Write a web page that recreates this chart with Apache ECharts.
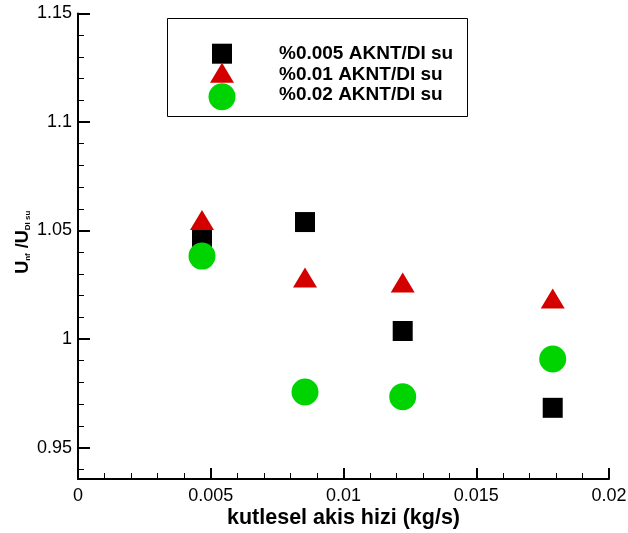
<!DOCTYPE html>
<html>
<head>
<meta charset="utf-8">
<script src="https://cdn.jsdelivr.net/npm/echarts@6/dist/echarts.min.js"></script>
<style>
  html, body { margin: 0; padding: 0; background: #fff; }
  #chart { width: 628px; height: 533px; }
</style>
</head>
<body>
<div id="chart"></div>
<script>
// Mass flow rate (kg/s) at the four measurement points
const massFlow = [0.00467, 0.00855, 0.01223, 0.01788];

// Velocity ratio U_nf / U_DI su for each nanofluid concentration
const conc0005 = [1.0459, 1.0539, 1.0037, 0.9683];
const conc001  = [1.0548, 1.0283, 1.0261, 1.0187];
const conc002  = [1.0382, 0.9756, 0.9734, 0.9908];

const seriesNames = ['%0.005 AKNT/DI su', '%0.01 AKNT/DI su', '%0.02 AKNT/DI su'];

// Tick values
const yMajor = [0.95, 1, 1.05, 1.1, 1.15];
const yMinor = [0.94, 0.96, 0.97, 0.98, 0.99, 1.01, 1.02, 1.03, 1.04, 1.06, 1.07, 1.08, 1.09, 1.11, 1.12, 1.13, 1.14];

const Y_MIN = 0.9355, Y_MAX = 1.15;
const FONT = 'Liberation Sans, Arial, sans-serif';

const pairs = (ys) => massFlow.map((x, i) => [x, ys[i]]);

// One legend block per series so each icon keeps its own size;
// the text column is aligned with a fixed-width spacer.
function legendEntry(name, icon, w, h, top, gap, pad) {
  return {
    orient: 'vertical',
    left: 222 - w / 2,
    top: top,
    padding: 0,
    itemWidth: w,
    itemHeight: h,
    symbolKeepAspect: false,
    selectedMode: false,
    data: [{ name: name, icon: icon }],
    formatter: (n) => '{gap|}{t|' + n + '}',
    textStyle: {
      fontFamily: FONT, fontWeight: 'bold', fontSize: 19, color: '#000',
      rich: {
        gap: { width: gap },
        t: { fontFamily: FONT, fontWeight: 'bold', fontSize: 19, color: '#000', padding: pad }
      }
    }
  };
}

const chart = echarts.init(document.getElementById('chart'), null, { renderer: 'canvas' });

chart.setOption({
  animation: false,
  backgroundColor: '#fff',
  grid: { left: 78, right: 19, top: 13.5, bottom: 54, containLabel: false, outerBoundsMode: 'none' },
  graphic: [{
    type: 'rect',
    shape: { x: 167.5, y: 18.5, width: 300, height: 98 },
    style: { fill: '#fff', stroke: '#000', lineWidth: 1 },
    z: 0
  }],
  legend: [
    legendEntry(seriesNames[0], 'rect', 20, 20, 43.7, 42, [0, 0, 0, 0]),
    legendEntry(seriesNames[1], 'triangle', 24, 20, 62.7, 40, [4, 0, 0, 0]),
    legendEntry(seriesNames[2], 'circle', 27, 27, 83.2, 38.5, [0, 0, 3, 0])
  ],
  xAxis: {
    type: 'value',
    min: 0, max: 0.02, interval: 0.005,
    name: 'kutlesel akis hizi (kg/s)',
    nameLocation: 'middle',
    nameGap: 28,
    nameMoveOverlap: false,
    nameTextStyle: { fontFamily: FONT, fontWeight: 'bold', fontSize: 21.5, color: '#000' },
    axisLine: { lineStyle: { color: '#000', width: 2 } },
    axisTick: { inside: true, length: 11, lineStyle: { color: '#000', width: 2 } },
    minorTick: { show: true, splitNumber: 5, length: 6, lineStyle: { color: '#000', width: 1 } },
    axisLabel: { fontFamily: FONT, fontSize: 18, color: '#000', margin: 8 },
    splitLine: { show: false },
    minorSplitLine: { show: false }
  },
  yAxis: [
    {
      type: 'value',
      position: 'left',
      min: Y_MIN, max: Y_MAX,
      name: '{m|U}{s|nf}{m| /U}{s|DI su}',
      nameLocation: 'middle',
      nameRotate: 90,
      nameGap: 46,
      nameMoveOverlap: false,
      nameTextStyle: {
        padding: [0, 0, 0, 8],
        rich: {
          m: { fontFamily: FONT, fontWeight: 'bold', fontSize: 18, color: '#000', verticalAlign: 'bottom', lineHeight: 20 },
          s: { fontFamily: FONT, fontWeight: 'bold', fontSize: 8, color: '#000', verticalAlign: 'bottom', lineHeight: 9 }
        }
      },
      axisLine: { show: true, lineStyle: { color: '#000', width: 2 } },
      axisTick: { show: true, inside: true, length: 12, customValues: yMajor, lineStyle: { color: '#000', width: 2 } },
      axisLabel: { customValues: yMajor, fontFamily: FONT, fontSize: 18, color: '#000', margin: 6 },
      splitLine: { show: false }
    },
    {
      type: 'value',
      position: 'left',
      min: Y_MIN, max: Y_MAX,
      axisLine: { show: false },
      axisTick: { show: true, inside: true, length: 6, customValues: yMinor, lineStyle: { color: '#000', width: 1 } },
      axisLabel: { show: false },
      splitLine: { show: false }
    }
  ],
  series: [
    {
      name: seriesNames[0], type: 'scatter', yAxisIndex: 0,
      symbol: 'rect', symbolSize: 20,
      itemStyle: { color: '#000000', opacity: 1 },
      data: pairs(conc0005)
    },
    {
      name: seriesNames[1], type: 'scatter', yAxisIndex: 0,
      symbol: 'triangle', symbolSize: [24, 20],
      itemStyle: { color: '#d40000', opacity: 1 },
      data: pairs(conc001)
    },
    {
      name: seriesNames[2], type: 'scatter', yAxisIndex: 0,
      symbol: 'circle', symbolSize: 27,
      itemStyle: { color: '#00d400', opacity: 1 },
      data: pairs(conc002)
    }
  ]
});
</script>
</body>
</html>
